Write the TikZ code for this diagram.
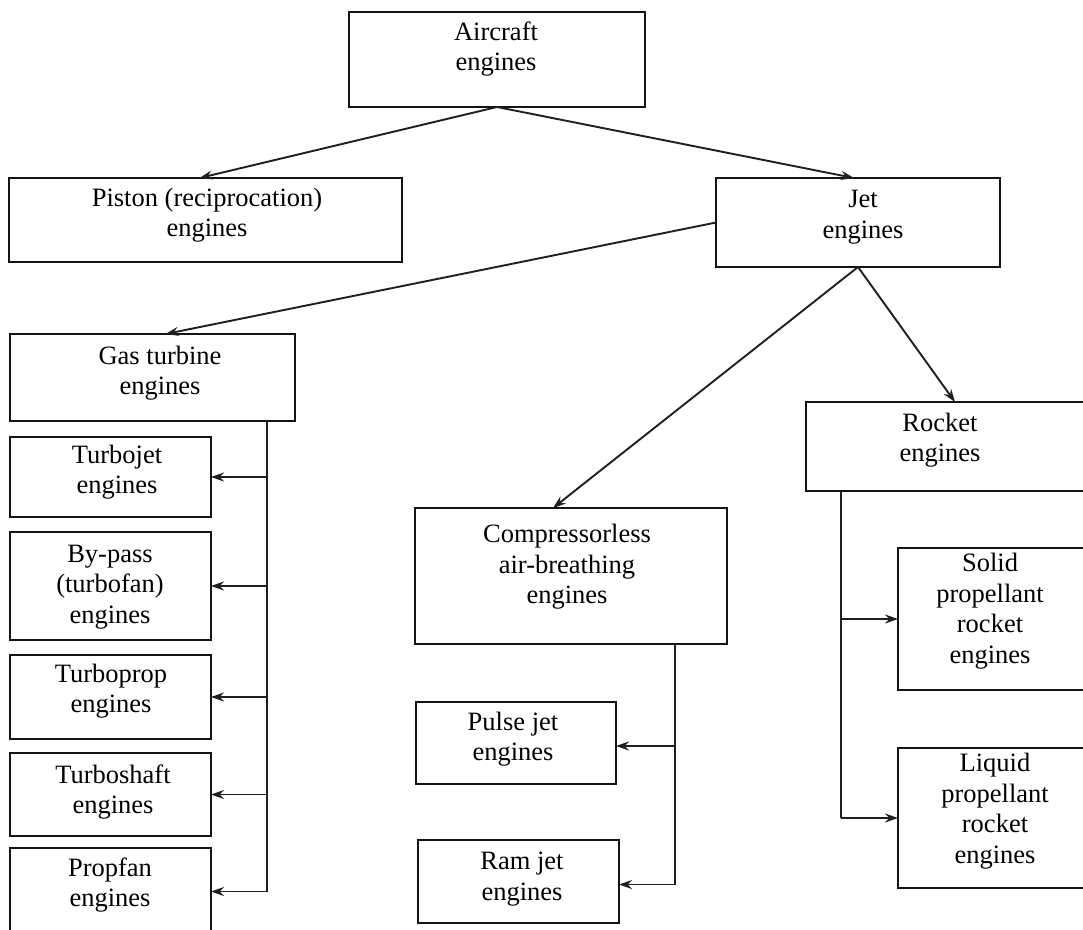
\documentclass[tikz,border=0pt]{standalone}
\usepackage{fontspec}
\setmainfont{Liberation Serif}
\usetikzlibrary{arrows.meta,calc}
\tikzset{
  box/.style={draw=black!92, line width=2.6pt, inner sep=0pt, outer sep=0pt, rectangle, fill=none},
  txt/.style={align=center, font=\fontsize{26.5}{30.5}\selectfont, inner sep=0pt, text=black},
  con/.style={line width=1.9pt, draw=black!88},
  arr/.style={con, -{Stealth[length=13pt,width=9pt,inset=4.5pt]}},
}
% name, x1, y1, x2, y2, tx, ty, text
\newcommand\mkbox[8]{%
  \node[box, minimum width={(#4-#2)*1pt}, minimum height={(#5-#3)*1pt}] (#1) at ({(#2+#4)/2},{-(#3+#5)/2}) {};
  \node[txt] (#1t) at (#6,-#7) {#8};
}
\begin{document}
\begin{tikzpicture}[x=1pt,y=1pt]
\useasboundingbox (0,0) rectangle (1083,-929);
\clip (0,0) rectangle (1083,-929);
\fill[white] (0,0) rectangle (1083,-929);

\mkbox{air}{349}{12}{645}{107}{496}{49}{Aircraft\\engines}
\mkbox{pis}{9}{178}{402}{262}{207}{215}{Piston (reciprocation)\\engines}
\mkbox{jet}{716}{178}{1000}{267}{863}{217}{Jet\\engines}
\mkbox{gas}{10}{334}{295}{421}{160}{373}{Gas turbine\\engines}
\mkbox{tj}{10}{437}{211}{517}{117}{472}{Turbojet\\engines}
\mkbox{bp}{10}{532}{211}{640}{110}{587}{By-pass\\(turbofan)\\engines}
\mkbox{tp}{10}{655}{211}{739}{111}{691}{Turboprop\\engines}
\mkbox{ts}{10}{753}{211}{836}{113}{792}{Turboshaft\\engines}
\mkbox{pf}{10}{848}{211}{935}{110}{885}{Propfan\\engines}
\mkbox{comp}{415}{508}{727}{644}{567}{567}{Compressorless\\air-breathing\\engines}
\mkbox{pul}{416}{702}{616}{784}{513}{739}{Pulse jet\\engines}
\mkbox{ram}{418}{840}{619}{923}{522}{879}{Ram jet\\engines}
\mkbox{roc}{806}{402}{1086}{491}{940}{440}{Rocket\\engines}
\mkbox{sol}{898}{548}{1086}{690}{990}{611}{Solid\\propellant\\rocket\\engines}
\mkbox{liq}{898}{748}{1086}{888}{995}{811}{Liquid\\propellant\\rocket\\engines}

% main branches
\draw[arr] (air.south) -- ([xshift=-6pt]pis.north);
\draw[arr] (air.south) -- ([xshift=-4pt]jet.north);
\draw[arr] (jet.west) -- ([xshift=13pt]gas.north);
\draw[arr] (jet.south) -- ([xshift=-18pt]comp.north);
\draw[arr] (jet.south) -- ([xshift=9pt]roc.north);

% gas turbine trunk
\coordinate (gx) at (267,0);
\draw[con] (gas.south -| gx) -- (pf.east -| gx);
\foreach \n in {tj,bp,tp,ts,pf} \draw[arr] (\n.east -| gx) -- (\n.east);

% compressorless trunk
\coordinate (cx) at (675,0);
\draw[con] (comp.south -| cx) -- ([yshift=-3pt]ram.east -| cx);
\draw[arr] ([yshift=-3pt]ram.east -| cx) -- ([yshift=-3pt]ram.east);
\draw[arr] ([yshift=-3pt]pul.east -| cx) -- ([yshift=-3pt]pul.east);

% rocket trunk
\coordinate (rx) at (841,0);
\draw[con] (roc.south -| rx) -- (liq.west -| rx);
\foreach \n in {sol,liq} \draw[arr] (\n.west -| rx) -- (\n.west);
\end{tikzpicture}
\end{document}
